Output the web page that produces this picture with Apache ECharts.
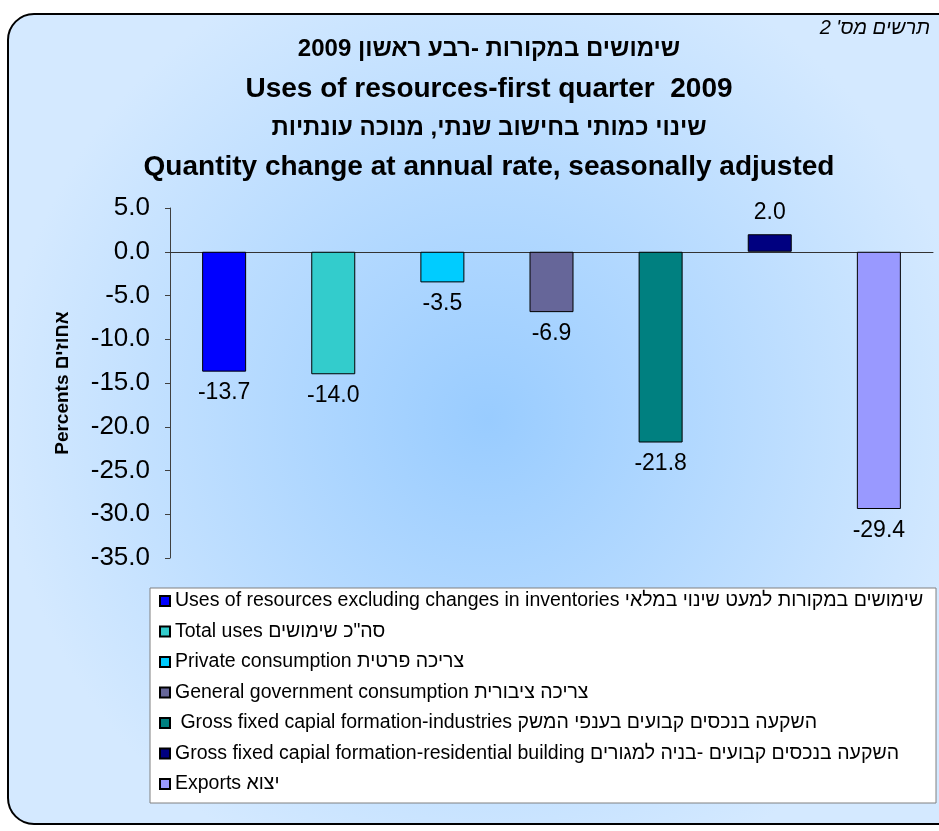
<!DOCTYPE html>
<html><head><meta charset="utf-8">
<script src="https://cdn.jsdelivr.net/npm/echarts@6/dist/echarts.min.js"></script>
<style>html,body{margin:0;padding:0;background:#fff}#c{width:939px;height:831px}</style>
</head><body><div id="c"></div>
<script>
const seriesNames = [
  'Uses of resources excluding changes in inventories שימושים במקורות למעט שינוי במלאי',
  'Total uses סה"כ שימושים',
  'Private consumption צריכה פרטית',
  'General government consumption צריכה ציבורית',
  ' Gross fixed capial formation-industries השקעה בנכסים קבועים בענפי המשק',
  'Gross fixed capial formation-residential building השקעה בנכסים קבועים -בניה למגורים',
  'Exports יצוא'
];
const seriesValues = [-13.7, -14.0, -3.5, -6.9, -21.8, 2.0, -29.4];
const seriesColors = ['#0000FF', '#33CCCC', '#00CCFF', '#666699', '#008080', '#000080', '#9999FF'];
const categories = [''];
const yTicks = { min: -35, max: 5, interval: 5 };
const titleLines = [
  'שימושים במקורות -רבע ראשון 2009',
  'Uses of resources-first quarter  2009',
  'שינוי כמותי בחישוב שנתי, מנוכה עונתיות',
  'Quantity change at annual rate, seasonally adjusted'
];
const chartNo = "תרשים מס' 2";
const yAxisName = 'Percents אחוזים';

const FONT = '"Liberation Sans", Arial, sans-serif';
const chart = echarts.init(document.getElementById('c'), null, { renderer: 'canvas' });

const titleY = [49, 89, 128, 167];
const titleSize = [24, 28, 24, 28];
const graphics = [
  {
    type: 'rect', z: -10, silent: true,
    shape: { x: 8, y: 14, width: 960, height: 810, r: 26 },
    style: {
      fill: new echarts.graphic.RadialGradient(0.5, 0.5, 0.6, [
        { offset: 0, color: '#99CCFF' },
        { offset: 1, color: '#D4E9FF' }
      ]),
      stroke: '#000', lineWidth: 2
    }
  },
  {
    type: 'rect', z: -5, silent: true,
    shape: { x: 150, y: 588, width: 786, height: 215 },
    style: { fill: '#fff', stroke: '#808080', lineWidth: 1 }
  },
  {
    type: 'text', z: 5, x: 930, y: 28,
    style: { text: chartNo, font: 'italic 20px ' + FONT, fill: '#000', textAlign: 'right', textVerticalAlign: 'middle' }
  }
];
titleLines.forEach((t, i) => {
  graphics.push({
    type: 'text', z: 5, x: 489, y: titleY[i],
    style: { text: t, font: 'bold ' + titleSize[i] + 'px ' + FONT, fill: '#000', textAlign: 'center', textVerticalAlign: 'middle' }
  });
});

const series = seriesNames.map((name, i) => ({
  name: name,
  type: 'bar',
  data: [seriesValues[i]],
  barWidth: 44,
  barGap: '148%',
  itemStyle: { color: seriesColors[i], borderColor: '#000', borderWidth: 1 },
  label: {
    show: true,
    position: seriesValues[i] < 0 ? 'bottom' : 'top',
    distance: 10,
    formatter: p => p.value.toFixed(1),
    fontFamily: FONT, fontSize: 23, color: '#000'
  }
}));

chart.setOption({
  animation: false,
  backgroundColor: '#fff',
  graphic: graphics,
  grid: { left: 170, right: 6, top: 208, bottom: 273, containLabel: false },
  legend: {
    orient: 'vertical', left: 159, top: 591, padding: 0,
    itemWidth: 10, itemHeight: 10, itemGap: 10.5,
    icon: 'rect',
    textStyle: { fontFamily: FONT, fontSize: 19.5, color: '#000', lineHeight: 19.5 },
    data: seriesNames
  },
  xAxis: {
    type: 'category', data: categories,
    axisLine: { show: true, onZero: true, lineStyle: { color: '#333', width: 1 } },
    axisTick: { show: false }, axisLabel: { show: false }, splitLine: { show: false }
  },
  yAxis: {
    type: 'value', min: yTicks.min, max: yTicks.max, interval: yTicks.interval,
    name: yAxisName, nameLocation: 'middle', nameRotate: 90, nameGap: 98,
    nameTextStyle: { fontFamily: FONT, fontSize: 19, fontWeight: 'bold', color: '#000' },
    axisLine: { show: true, lineStyle: { color: '#404040', width: 1 } },
    axisTick: { show: true, length: 5, lineStyle: { color: '#404040' } },
    axisLabel: { formatter: v => v.toFixed(1), fontFamily: FONT, fontSize: 26, color: '#000', margin: 20 },
    splitLine: { show: false }
  },
  series: series
});
</script></body></html>
